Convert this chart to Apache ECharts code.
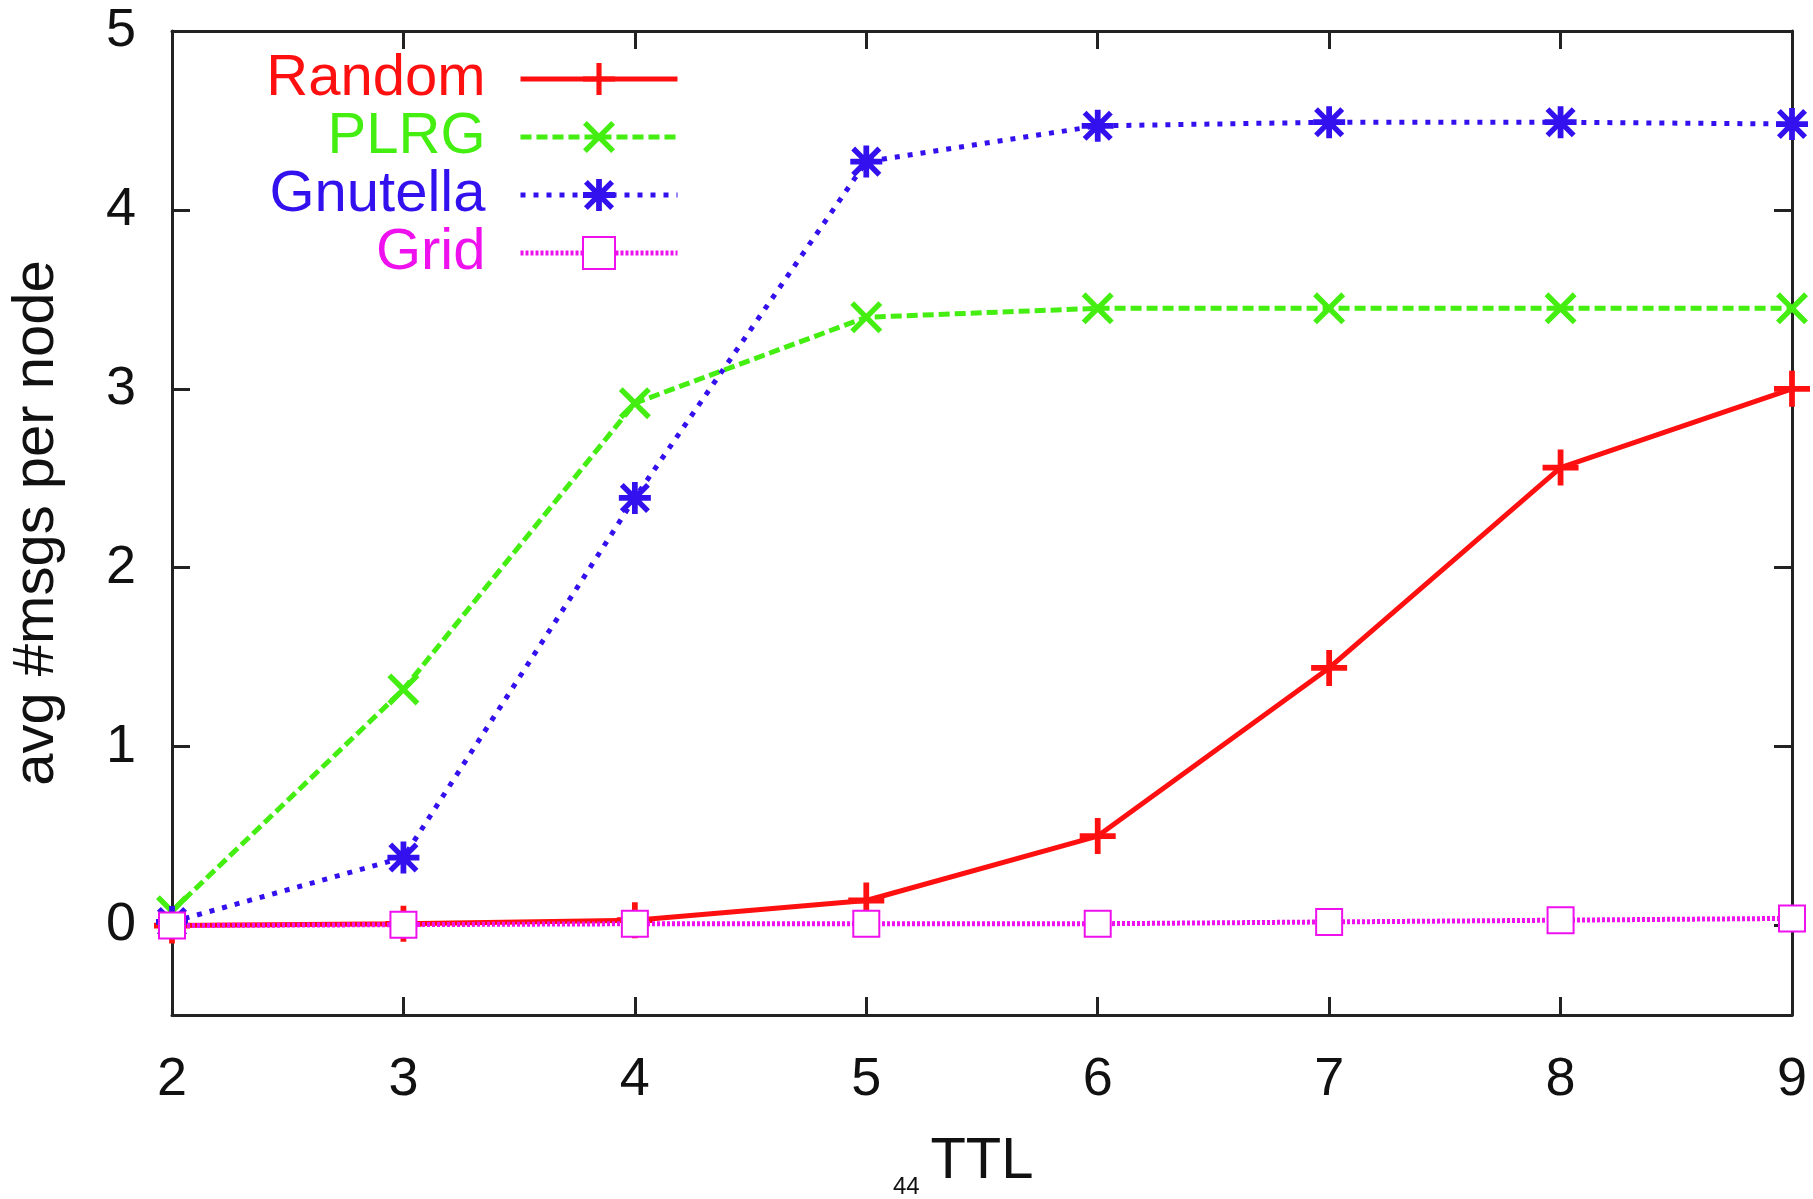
<!DOCTYPE html>
<html>
<head>
<meta charset="utf-8">
<script src="https://cdn.jsdelivr.net/npm/echarts@6/dist/echarts.min.js"></script>
<style>
  html, body { margin: 0; padding: 0; background: #fff; }
  #chart { width: 1813px; height: 1199px; }
</style>
</head>
<body>
<div id="chart"></div>
<script>
let ttl = [2, 3, 4, 5, 6, 7, 8, 9]
let randomVals = [0.0, 0.01, 0.03, 0.14, 0.5, 1.44, 2.56, 3.0]
let plrgVals = [0.08, 1.32, 2.92, 3.4, 3.45, 3.45, 3.45, 3.45]
let gnutellaVals = [0.02, 0.38, 2.39, 4.27, 4.47, 4.49, 4.49, 4.48]
let gridVals = [0.0, 0.005, 0.01, 0.01, 0.01, 0.02, 0.03, 0.04]
let yTicks = [0, 1, 2, 3, 4, 5]

let font = 'Liberation Sans, Arial, sans-serif'

// marker shapes (gnuplot style)
let plusPath = 'path://M42,0L58,0L58,42L100,42L100,58L58,58L58,100L42,100L42,58L0,58L0,42L42,42Z'
let crossPath = 'path://M0,12L12,0L50,38L88,0L100,12L62,50L100,88L88,100L50,62L12,100L0,88L38,50Z'
let starPath = 'path://M41,0L59,0L59,41L100,41L100,59L59,59L59,100L41,100L41,59L0,59L0,41L41,41Z' +
  'M3,15L15,3L50,38L85,3L97,15L62,50L97,85L85,97L50,62L15,97L3,85L38,50Z'

function pairs(vals) {
  let out = []
  for (let i = 0; i < ttl.length; i++) {
    out.push([ttl[i], vals[i]])
  }
  return out
}

let chart = echarts.init(document.getElementById('chart'))

let axisLineStyle = { color: '#222', width: 3 }

let option = {
  backgroundColor: '#fff',
  animation: false,
  grid: { left: 172, right: 21, top: 31, bottom: 184, outerBoundsMode: 'none', containLabel: false },
  legend: {
    orient: 'vertical',
    align: 'right',
    right: 1128,
    top: 45,
    itemWidth: 157,
    itemHeight: 40,
    itemGap: 0,
    lineStyle: { width: 5 },
    textStyle: { fontFamily: font, fontSize: 58, padding: [0, 30, 0, 0] },
    data: [
      { name: 'Random', textStyle: { color: '#ff1010' } },
      { name: 'PLRG', textStyle: { color: '#44ee11' } },
      { name: 'Gnutella', textStyle: { color: '#3311ee' } },
      { name: 'Grid', textStyle: { color: '#ee11ee' } }
    ]
  },
  xAxis: [
    {
      type: 'value',
      min: 2, max: 9, interval: 1,
      name: 'TTL',
      nameLocation: 'middle',
      nameGap: 118,
      nameTextStyle: { fontFamily: font, fontSize: 58, color: '#111' },
      axisLine: { show: true, onZero: false, lineStyle: axisLineStyle },
      axisTick: { show: true, inside: true, length: 18, lineStyle: axisLineStyle },
      axisLabel: { fontFamily: font, fontSize: 54, color: '#111', margin: 38 },
      splitLine: { show: false }
    },
    {
      type: 'value',
      position: 'top',
      min: 2, max: 9, interval: 1,
      axisLine: { show: true, onZero: false, lineStyle: axisLineStyle },
      axisTick: { show: true, inside: true, length: 18, lineStyle: axisLineStyle },
      axisLabel: { show: false },
      splitLine: { show: false }
    }
  ],
  yAxis: [
    {
      type: 'value',
      min: -0.5, max: 5,
      name: 'avg #msgs per node',
      nameLocation: 'middle',
      nameGap: 106,
      nameTextStyle: { fontFamily: font, fontSize: 58, color: '#111' },
      axisLine: { show: true, onZero: false, lineStyle: axisLineStyle },
      axisTick: { show: true, inside: true, length: 18, customValues: yTicks, lineStyle: axisLineStyle },
      axisLabel: { fontFamily: font, fontSize: 54, color: '#111', margin: 36, customValues: yTicks },
      splitLine: { show: false }
    },
    {
      type: 'value',
      position: 'right',
      min: -0.5, max: 5,
      axisLine: { show: true, onZero: false, lineStyle: axisLineStyle },
      axisTick: { show: true, inside: true, length: 18, customValues: yTicks, lineStyle: axisLineStyle },
      axisLabel: { show: false, customValues: yTicks },
      splitLine: { show: false }
    }
  ],
  graphic: [
    {
      type: 'text',
      left: 893,
      top: 1175,
      style: { text: '44', fontFamily: font, fontSize: 24, fill: '#111' }
    }
  ],
  series: [
    {
      name: 'Random',
      type: 'line',
      data: pairs(randomVals),
      symbol: plusPath,
      symbolSize: 36,
      color: '#ff1010',
      lineStyle: { width: 5, color: '#ff1010', type: 'solid' },
      itemStyle: { color: '#ff1010' },
      z: 2
    },
    {
      name: 'PLRG',
      type: 'line',
      data: pairs(plrgVals),
      symbol: crossPath,
      symbolSize: 32,
      color: '#44ee11',
      lineStyle: { width: 5, color: '#44ee11', type: [11, 5] },
      itemStyle: { color: '#44ee11' },
      z: 3
    },
    {
      name: 'Gnutella',
      type: 'line',
      data: pairs(gnutellaVals),
      symbol: starPath,
      symbolSize: 32,
      color: '#3311ee',
      lineStyle: { width: 5, color: '#3311ee', type: [5, 8] },
      itemStyle: { color: '#3311ee' },
      z: 4
    },
    {
      name: 'Grid',
      type: 'line',
      data: pairs(gridVals),
      symbol: 'emptyRect',
      symbolSize: 26,
      color: '#ee11ee',
      lineStyle: { width: 5, color: '#ee11ee', type: [3, 2] },
      itemStyle: { color: '#ee11ee', borderColor: '#ee11ee', borderWidth: 5 },
      z: 5
    }
  ]
}

chart.setOption(option)
</script>
</body>
</html>
